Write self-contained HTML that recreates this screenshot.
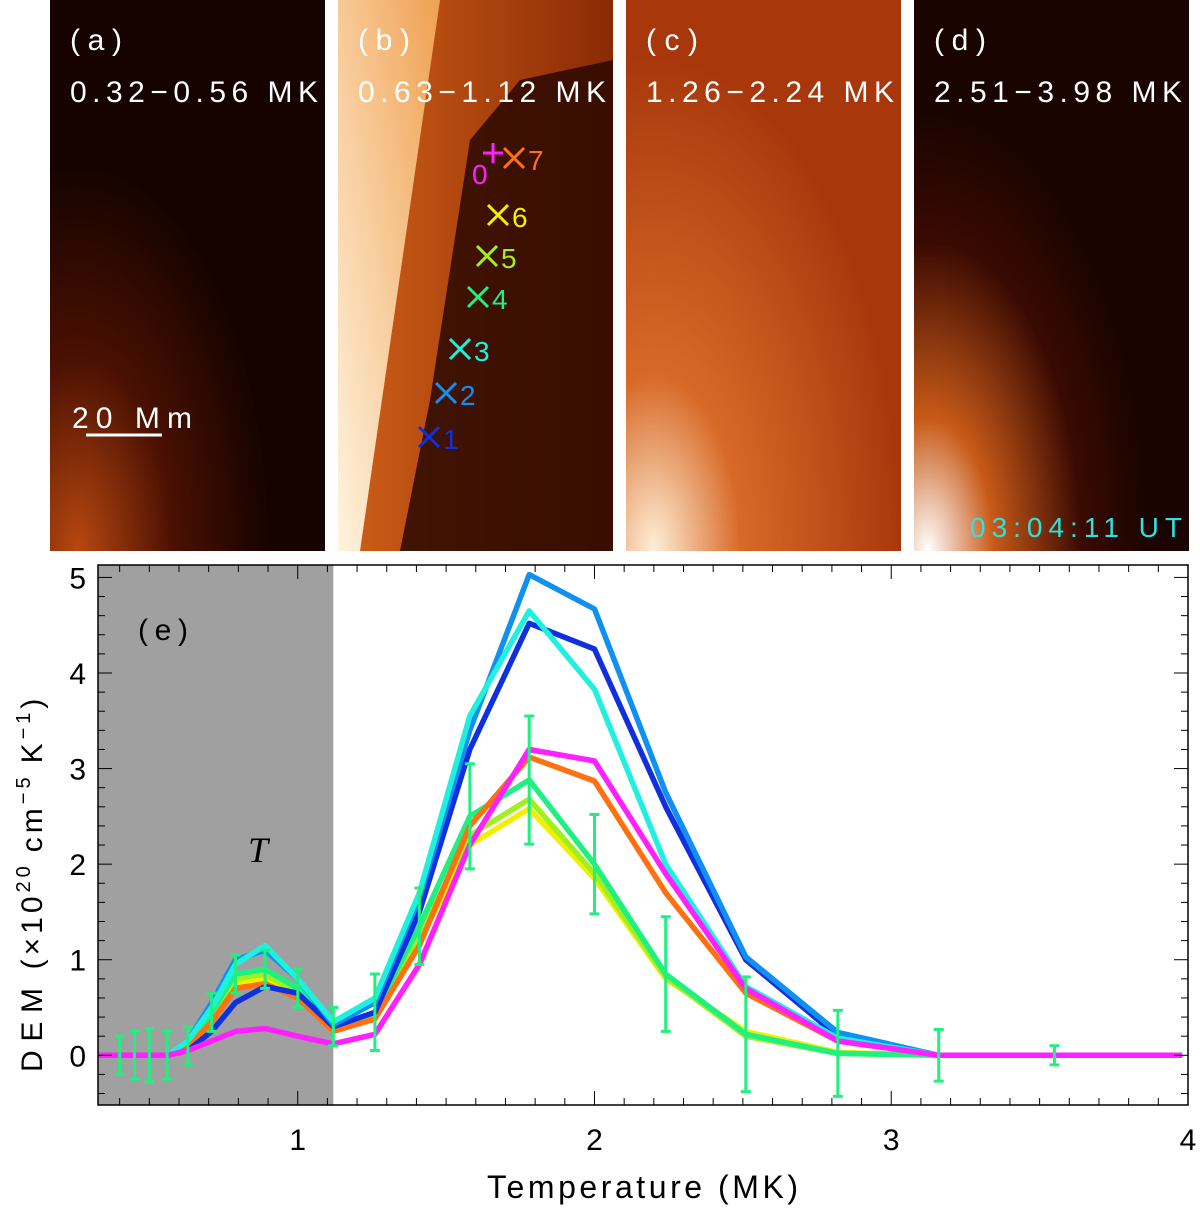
<!DOCTYPE html>
<html><head><meta charset="utf-8"><style>
body{margin:0;background:#fff;width:1200px;height:1209px;overflow:hidden}
svg{display:block;font-family:"Liberation Sans",sans-serif}
</style></head><body>
<svg id="s" width="1200" height="1209" viewBox="0 0 1200 1209">
<defs>
<radialGradient id="ga" cx="0.1" cy="1" r="0.7"><stop offset="0" stop-color="#b84810"/><stop offset="0.5" stop-color="#4a1002"/><stop offset="1" stop-color="#160300"/></radialGradient>
<linearGradient id="gb" x1="0" y1="0" x2="1" y2="0"><stop offset="0" stop-color="#d06018"/><stop offset="1" stop-color="#8a2a05"/></linearGradient>
<linearGradient id="gj" x1="0" y1="1" x2="1" y2="0"><stop offset="0" stop-color="#fff4e0"/><stop offset="1" stop-color="#f0a050"/></linearGradient>
<radialGradient id="gc" cx="0.1" cy="1" r="0.9"><stop offset="0" stop-color="#fff0d8"/><stop offset="0.35" stop-color="#d86a28"/><stop offset="1" stop-color="#a8380c"/></radialGradient>
<radialGradient id="gd" cx="0.05" cy="1" r="0.8"><stop offset="0" stop-color="#ffffff"/><stop offset="0.3" stop-color="#c85a18"/><stop offset="0.7" stop-color="#3a0a02"/><stop offset="1" stop-color="#1a0400"/></radialGradient>
</defs>
<g>
<rect x="50" y="0" width="275" height="551" fill="url(#ga)"/>
<text x="70" y="50" fill="#fff" font-size="30" textLength="52">(a)</text>
<text x="70" y="102" fill="#fff" font-size="30" textLength="248">0.32−0.56 MK</text>
<text x="72" y="428" fill="#fff" font-size="30" textLength="120">20 Mm</text>
<line x1="86" y1="435" x2="162" y2="435" stroke="#fff" stroke-width="3"/>
</g>
<g>
<rect x="338" y="0" width="275" height="551" fill="url(#gb)"/>
<polygon points="470,140 520,80 613,60 613,551 400,551 430,400" fill="#2a0800" opacity="0.85"/>
<polygon points="338,551 338,0 400,0 440,0 360,551" fill="url(#gj)"/>
<text x="358" y="50" fill="#fff" font-size="30" textLength="52">(b)</text>
<text x="358" y="102" fill="#fff" font-size="30" textLength="248">0.63−1.12 MK</text>
</g>
<g>
<rect x="626" y="0" width="275" height="551" fill="url(#gc)"/>
<text x="646" y="50" fill="#fff" font-size="30" textLength="52">(c)</text>
<text x="646" y="102" fill="#fff" font-size="30" textLength="248">1.26−2.24 MK</text>
</g>
<g>
<rect x="914" y="0" width="275" height="551" fill="url(#gd)"/>
<text x="934" y="50" fill="#fff" font-size="30" textLength="52">(d)</text>
<text x="934" y="102" fill="#fff" font-size="30" textLength="248">2.51−3.98 MK</text>
<text x="970" y="537" fill="#30e0e0" font-size="28" textLength="212">03:04:11 UT</text>
</g>
<g id="markers"></g>
<g id="chart"></g>
</svg>
<script>
const temps=[0.32,0.355,0.40,0.45,0.50,0.56,0.63,0.71,0.79,0.89,1.0,1.12,1.26,1.41,1.58,1.78,2.0,2.24,2.51,2.82,3.16,3.55,3.98];
const seriesNames=['0','1','2','3','4','5','6','7'];
const seriesColors=['#ff20ff','#1030e0','#1090f0','#20f0e0','#20f080','#a0f020','#f0f000','#ff7010'];
const s0=[0,0,0,0,0,0,0.05,0.15,0.25,0.28,0.2,0.12,0.22,0.95,2.2,3.2,3.08,1.9,0.7,0.15,0,0,0];
const s1=[0,0,0,0,0,0,0.05,0.25,0.55,0.72,0.65,0.3,0.45,1.5,3.2,4.52,4.25,2.6,1.0,0.2,0,0,0];
const s2=[0,0,0,0,0,0,0.15,0.55,1.0,1.1,0.8,0.32,0.55,1.65,3.4,5.03,4.67,2.75,1.03,0.24,0,0,0];
const s3=[0,0,0,0,0,0,0.15,0.5,0.95,1.15,0.8,0.35,0.6,1.7,3.55,4.65,3.83,2.0,0.72,0.18,0,0,0];
const s4=[0,0,0,0,0,0,0.1,0.45,0.85,0.9,0.7,0.3,0.45,1.35,2.5,2.88,2.0,0.85,0.22,0.02,0,0,0];
const s5=[0,0,0,0,0,0,0.1,0.4,0.8,0.85,0.65,0.28,0.42,1.25,2.3,2.68,1.9,0.82,0.2,0.02,0,0,0];
const s6=[0,0,0,0,0,0,0.1,0.4,0.75,0.8,0.62,0.26,0.4,1.2,2.2,2.58,1.85,0.8,0.25,0.03,0,0,0];
const s7=[0,0,0,0,0,0,0.08,0.35,0.7,0.75,0.6,0.25,0.38,1.15,2.4,3.12,2.87,1.7,0.65,0.15,0,0,0];
const errVals=[null,null,0.2,0.25,0.28,0.25,0.2,0.2,0.2,0.2,0.2,0.2,0.4,0.4,0.55,0.67,0.52,0.6,0.6,0.45,0.27,0.1,null];
const xTicks=[1,2,3,4];
const yTicks=[0,1,2,3,4,5];
const NS='http://www.w3.org/2000/svg';
const L=98,R=1188,T=565,B=1105,X0=0.327,X1=4.0,Y0=-0.52,Y1=5.13;
const xs=v=>L+(v-X0)/(X1-X0)*(R-L);
const ys=v=>B-(v-Y0)/(Y1-Y0)*(B-T);
const g=document.getElementById('chart');
function mk(t,a,p){const e=document.createElementNS(NS,t);for(const k in a)e.setAttribute(k,a[k]);(p||g).appendChild(e);return e;}
let e=mk('rect',{x:L,y:T,width:xs(1.12)-L,height:B-T,fill:'#a0a0a0'});


e=mk('text',{x:258,y:862,'font-size':36,'font-style':'italic','font-family':'Liberation Serif, serif',fill:'#000','text-anchor':'middle'});e.textContent='T';


e=mk('text',{x:138,y:640,'font-size':30,fill:'#000',textLength:50});e.textContent='(e)';


const all=[s0,s1,s2,s3,s4,s5,s6,s7];
const order=[6,5,4,7,1,2,3,0];
const clip=mk('clipPath',{id:'cp'});mk('rect',{x:L,y:T,width:R-L,height:B-T},clip);
order.forEach(i=>{const d=all[i].map((v,k)=>(k?'L':'M')+xs(Math.max(temps[k],X0)).toFixed(1)+','+ys(v).toFixed(1)).join('');
const p=mk('path',{d:d,fill:'none',stroke:seriesColors[i],'stroke-width':5.5,'stroke-linejoin':'round','clip-path':'url(#cp)'});

});
errVals.forEach((er,k)=>{if(er==null)return;const x=xs(temps[k]),v=s4[k];
const eb=mk('path',{d:`M${x},${ys(v-er)}L${x},${ys(v+er)}M${x-5},${ys(v-er)}L${x+5},${ys(v-er)}M${x-5},${ys(v+er)}L${x+5},${ys(v+er)}`,stroke:'#20f080','stroke-width':3,fill:'none'});

});
e=mk('rect',{x:L,y:T,width:R-L,height:B-T,fill:'none',stroke:'#000','stroke-width':1.5});


for(let v=0.4;v<=4.001;v+=0.1){const x=xs(v),mj=Math.abs(v-Math.round(v))<0.01;mk('line',{x1:x,y1:B,x2:x,y2:B-(mj?14:7),stroke:'#000'});mk('line',{x1:x,y1:T,x2:x,y2:T+(mj?14:7),stroke:'#000'});}
for(let v=-0.4;v<=5.01;v+=0.2){const y=ys(v),mj=Math.abs(v-Math.round(v))<0.01;mk('line',{x1:L,y1:y,x2:L+(mj?14:7),y2:y,stroke:'#000'});mk('line',{x1:R,y1:y,x2:R-(mj?14:7),y2:y,stroke:'#000'});}
xTicks.forEach(v=>{const t=mk('text',{x:xs(v),y:1150,'font-size':30,'text-anchor':'middle'});t.textContent=v;

});
yTicks.forEach(v=>{const t=mk('text',{x:86,y:ys(v)+11,'font-size':30,'text-anchor':'end'});t.textContent=v;

});
e=mk('text',{x:487,y:1198,'font-size':32,textLength:311});e.textContent='Temperature (MK)';


e=mk('text',{x:0,y:0,'font-size':30,transform:'translate(42,1072) rotate(-90)'});
e.innerHTML='<tspan textLength="88">DEM</tspan><tspan dx="10">(×10</tspan><tspan dy="-12" font-size="20">20</tspan><tspan dy="12" dx="10">cm</tspan><tspan dy="-12" font-size="20">−5</tspan><tspan dy="12" dx="10">K</tspan><tspan dy="-12" font-size="20">−1</tspan><tspan dy="12">)</tspan>';
e.setAttribute('letter-spacing','4');


const mg=document.getElementById('markers');
const mpos=[[429,437],[446,393],[460,349],[478,297],[487,256],[498,215],[514,158]];
mpos.forEach((p,i)=>{const c=seriesColors[i+1],x=p[0],y=p[1];
const m=mk('path',{d:`M${x-10},${y-10}L${x+10},${y+10}M${x-10},${y+10}L${x+10},${y-10}`,stroke:c,'stroke-width':3},mg);


const t=mk('text',{x:x+14,y:y+12,'font-size':28,fill:c},mg);t.textContent=i+1;});
const pm=mk('path',{d:'M493,143L493,163M483,153L503,153',stroke:'#ff20ff','stroke-width':3},mg);


const t0=mk('text',{x:472,y:184,'font-size':28,fill:'#ff20ff'},mg);t0.textContent='0';
</script>
</body></html>
